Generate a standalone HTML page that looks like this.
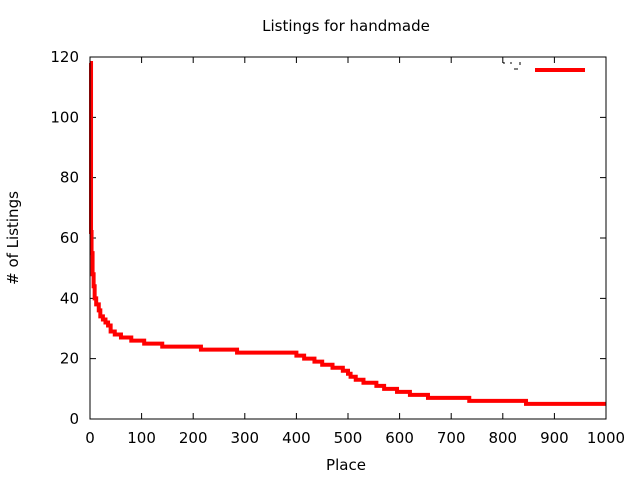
<!DOCTYPE html>
<html><head><meta charset="utf-8"><style>
body{margin:0;background:#fff;}
svg{display:block;font-family:"DejaVu Sans","Liberation Sans",sans-serif;}
</style></head><body>
<svg id="chart" width="640" height="480" viewBox="0 0 640 480" xmlns="http://www.w3.org/2000/svg">
<text x="346" y="31" font-size="15" text-anchor="middle">Listings for handmade</text>
<text x="346" y="470" font-size="15" text-anchor="middle">Place</text>
<text x="18" y="238" font-size="15" text-anchor="middle" transform="rotate(-90 18 238)"># of Listings</text>
<g id="ticks"></g>
<path id="series" fill="none" stroke="#f00" stroke-width="4" stroke-linejoin="miter"/>
<rect x="90" y="57" width="516" height="362" fill="none" stroke="#000" stroke-width="1"/>
<line x1="535" y1="70" x2="585" y2="70" stroke="#f00" stroke-width="4"/>
<path d="M504 62v2M511 62v2M514 69h4M520 62v3" stroke="#000" stroke-width="1"/>
</svg>
<script>
const places=[1,2,3,5,7,9,12,17,20,25,30,35,40,48,60,80,105,140,215,285,400,415,435,450,470,490,500,505,515,530,555,570,595,620,655,735,845];
const values=[118,62,55,48,44,40,38,36,34,33,32,31,29,28,27,26,25,24,23,22,21,20,19,18,17,16,15,14,13,12,11,10,9,8,7,6,5];
const lastPlace=1000;
const xTicks=[0,100,200,300,400,500,600,700,800,900,1000];
const yTicks=[0,20,40,60,80,100,120];
const X=v=>90+v*516/1000, Y=v=>419-v*362/120;
const ns="http://www.w3.org/2000/svg";
const g=document.getElementById('ticks');
function mk(t,a){const e=document.createElementNS(ns,t);for(const k in a)e.setAttribute(k,a[k]);return e;}
xTicks.forEach(t=>{
  const x=X(t);
  const l=mk('path',{d:`M${x} 419v-6M${x} 57v6`,stroke:'#000'});
  
  
  g.appendChild(l);
  const tx=mk('text',{x:x,y:443,'font-size':15,'text-anchor':'middle'});
  tx.textContent=t;
  
  
  g.appendChild(tx);
});
yTicks.forEach(t=>{
  const y=Y(t);
  const l=mk('path',{d:`M90 ${y}h6M606 ${y}h-6`,stroke:'#000'});
  
  
  g.appendChild(l);
  const tx=mk('text',{x:79,y:y+5,'font-size':15,'text-anchor':'end'});
  tx.textContent=t;
  
  
  g.appendChild(tx);
});
let d=`M${X(places[0])} ${Y(values[0])}`;
for(let i=1;i<places.length;i++){d+=`H${X(places[i])}V${Y(values[i])}`;}
d+=`H${X(lastPlace)}`;
document.getElementById('series').setAttribute('d',d);
</script>
</body></html>
